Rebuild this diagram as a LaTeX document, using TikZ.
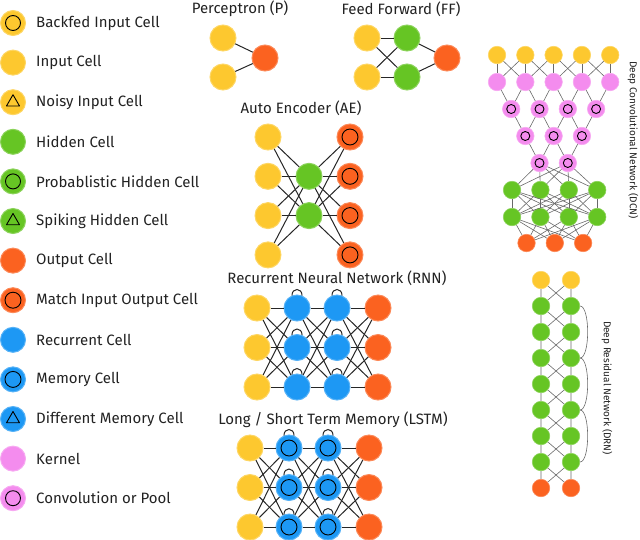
\documentclass[tikz,border=0pt]{standalone}
\usepackage{fontspec}
\setmainfont{Fira Sans}
\usepackage{tikz}

\definecolor{inyellow}{RGB}{253,200,47}
\definecolor{hidgreen}{RGB}{102,197,36}
\definecolor{outorange}{RGB}{251,98,32}
\definecolor{recblue}{RGB}{29,152,244}
\definecolor{kerpink}{RGB}{244,140,238}
\definecolor{wirecol}{RGB}{38,38,38}
\definecolor{greywire}{RGB}{105,105,105}
\definecolor{textcol}{RGB}{34,34,34}

\begin{document}
\begin{tikzpicture}[x=1pt,y=-1pt]

    \tikzstyle{every node}=[font=\fontsize{15}{17}\selectfont, text=textcol]
    \tikzset{
        cell/.style={circle, minimum size=26pt, inner sep=0pt, line width=1pt},
        ring/.style={path picture={\draw[black, line width=0.9pt] (path picture bounding box.center) circle (#1);}},
        tri/.style={path picture={\draw[black, line width=0.9pt, line join=round]
            ([shift={(90:7.5pt)}]path picture bounding box.center) --
            ([shift={(210:7.5pt)}]path picture bounding box.center) --
            ([shift={(330:7.5pt)}]path picture bounding box.center) -- cycle;}},
    }
    \tikzstyle{input}=[cell, fill=inyellow, draw=inyellow!75!white]
    \tikzstyle{backfed}=[input, ring=7.5pt]
    \tikzstyle{noisy}=[input, tri]
    \tikzstyle{hidden}=[cell, fill=hidgreen, draw=hidgreen!75!white]
    \tikzstyle{prob}=[hidden, ring=7.5pt]
    \tikzstyle{spiking}=[hidden, tri]
    \tikzstyle{output}=[cell, fill=outorange, draw=outorange!75!white]
    \tikzstyle{match}=[output, ring=8pt]
    \tikzstyle{recur}=[cell, fill=recblue, draw=recblue!75!white]
    \tikzstyle{memory}=[recur, ring=8pt]
    \tikzstyle{diffmem}=[recur, tri]
    \tikzstyle{kernel}=[cell, fill=kerpink, draw=kerpink!75!white]
    \tikzstyle{conv}=[kernel, ring=7.5pt]
    \tikzstyle{small}=[minimum size=17.5pt, line width=0.6pt]
    \tikzstyle{wire}=[draw=wirecol, line width=1pt]
    \tikzstyle{thin}=[draw=greywire, line width=0.6pt]
    \tikzstyle{side}=[font=\fontsize{10}{12}\selectfont, rotate=-90]

    \useasboundingbox (0,0) rectangle (640,539);

    % Legend
    \foreach \st/\lab [count=\i from 0] in {backfed/Backfed Input Cell, input/Input Cell,
        noisy/Noisy Input Cell, hidden/Hidden Cell, prob/Probablistic Hidden Cell,
        spiking/Spiking Hidden Cell, output/Output Cell, match/Match Input Output Cell,
        recur/Recurrent Cell, memory/Memory Cell, diffmem/Different Memory Cell,
        kernel/Kernel, conv/Convolution or Pool}
    {
        \node[\st, minimum size=25pt] (key\i) at (13, 23+39.6*\i) {};
        \node[anchor=west, inner sep=0pt] (lab\i) at (36, 23+39.6*\i) {\lab};
    }

    % Perceptron
    \node (ptitle) at (240,9) {Perceptron (P)};
    \node[input] (p1) at (223,38) {};
    \node[input] (p2) at (223,77) {};
    \node[output] (po) at (265,58) {};
    \draw[wire] (p1) -- (po) (p2) -- (po);

    % Feed forward
    \node (ftitle) at (401,9) {Feed Forward (FF)};
    \node[input] (f1) at (367,38) {};
    \node[input] (f2) at (367,77) {};
    \node[hidden] (fh1) at (407,38) {};
    \node[hidden] (fh2) at (407,77) {};
    \node[output] (fo) at (447,58) {};
    \foreach \a in {1,2} \foreach \b in {1,2} \draw[wire] (f\a) -- (fh\b);
    \draw[wire] (fh1) -- (fo) (fh2) -- (fo);

    % Auto encoder
    \node (atitle) at (301,108) {Auto Encoder (AE)};
    \foreach \i in {1,...,4} {
        \node[input] (ai\i) at (268, 137+39.3*\i-39.3) {};
        \node[match] (ao\i) at (350, 137+39.3*\i-39.3) {};
    }
    \node[hidden] (ah1) at (309,176.3) {};
    \node[hidden] (ah2) at (309,215.6) {};
    \foreach \i in {1,...,4} \foreach \j in {1,2}
        \draw[wire] (ai\i) -- (ah\j) (ah\j) -- (ao\i);

    % Recurrent neural network
    \node (rtitle) at (337,278) {Recurrent Neural Network (RNN)};
    \foreach \i in {1,2,3} {
        \node[input] (ri\i) at (257, 308+39.5*\i-39.5) {};
        \node[recur] (ra\i) at (297, 308+39.5*\i-39.5) {};
        \node[recur] (rb\i) at (337, 308+39.5*\i-39.5) {};
        \node[output] (ro\i) at (378, 308+39.5*\i-39.5) {};
    }
    \foreach \i in {1,2,3} \foreach \j in {1,2,3}
        \draw[wire] (ri\i) -- (ra\j) (ra\i) -- (rb\j) (rb\i) -- (ro\j);
    \foreach \n in {ra1,ra2,ra3,rb1,rb2,rb3}
        \draw[wire] (\n.112) .. controls +(90:8pt) and +(90:8pt) .. (\n.68);

    % Long / short term memory
    \node (ltitle) at (333,420) {Long / Short Term Memory (LSTM)};
    \foreach \i in {1,2,3} {
        \node[input] (li\i) at (250, 448+39.5*\i-39.5) {};
        \node[memory] (la\i) at (289, 448+39.5*\i-39.5) {};
        \node[memory] (lb\i) at (328, 448+39.5*\i-39.5) {};
        \node[output] (lo\i) at (369, 448+39.5*\i-39.5) {};
    }
    \foreach \i in {1,2,3} \foreach \j in {1,2,3}
        \draw[wire] (li\i) -- (la\j) (la\i) -- (lb\j) (lb\i) -- (lo\j);
    \foreach \n in {la1,la2,la3,lb1,lb2,lb3}
        \draw[wire] (\n.112) .. controls +(90:8pt) and +(90:8pt) .. (\n.68);

    % Deep convolutional network
    \foreach \i in {1,...,5} {
        \node[input, small] (dy\i) at (497+28.3*\i-28.3, 55) {};
        \node[kernel, small] (dk\i) at (497+28.3*\i-28.3, 82) {};
    }
    \foreach \i in {1,...,4} {
        \node[conv, small, ring=4.5pt] (dc\i) at (511.2+28.3*\i-28.3, 109) {};
        \node[hidden, small] (dg\i) at (512+28.4*\i-28.4, 190) {};
        \node[hidden, small] (dh\i) at (512+28.4*\i-28.4, 217) {};
    }
    \foreach \i in {1,2,3} {
        \node[conv, small, ring=4.5pt] (dp\i) at (525.3+28.3*\i-28.3, 136) {};
        \node[output, small] (do\i) at (526.5+28.3*\i-28.3, 243) {};
    }
    \foreach \i in {1,2}
        \node[conv, small, ring=4.5pt] (dq\i) at (539.5+28.3*\i-28.3, 163) {};

    \foreach \i in {1,...,5} \draw[thin] (dy\i) -- (dk\i);
    \foreach \i [count=\j from 2] in {1,...,4}
        \draw[thin] (dy\i) -- (dk\j) (dy\j) -- (dk\i) (dk\i) -- (dc\i) (dk\j) -- (dc\i);
    \foreach \i [count=\j from 2] in {1,2,3} \draw[thin] (dc\i) -- (dp\i) (dc\j) -- (dp\i);
    \foreach \i [count=\j from 2] in {1,2} \draw[thin] (dp\i) -- (dq\i) (dp\j) -- (dq\i);
    \foreach \i in {1,2} \foreach \j in {1,...,4} \draw[thin] (dq\i) -- (dg\j);
    \foreach \i in {1,...,4} \foreach \j in {1,...,4} \draw[thin] (dg\i) -- (dh\j);
    \foreach \i in {1,...,4} \foreach \j in {1,2,3} \draw[thin] (dh\i) -- (do\j);
    \node[side] (dtitle) at (633,140) {Deep Convolutional Network (DCN)};

    % Deep residual network
    \node[input, small] (rl0) at (541,280) {};
    \node[input, small] (rr0) at (571,280) {};
    \foreach \i in {1,...,7} {
        \node[hidden, small] (rl\i) at (541, 280+26*\i) {};
        \node[hidden, small] (rr\i) at (571, 280+26*\i) {};
    }
    \node[output, small] (rl8) at (541,488) {};
    \node[output, small] (rr8) at (571,488) {};
    \foreach \i [count=\j from 1] in {0,...,7}
        \draw[thin] (rl\i) -- (rl\j) (rr\i) -- (rr\j) (rl\i) -- (rr\j) (rr\i) -- (rl\j);
    \foreach \i [evaluate=\i as \j using int(\i+2)] in {1,3,5}
        \draw[thin] (rr\i.east) to[out=0, in=0, looseness=0.5] (rr\j.east);
    \node[side] (rtitle2) at (607,388) {Deep Residual Network (DRN)};

\end{tikzpicture}
\end{document}
